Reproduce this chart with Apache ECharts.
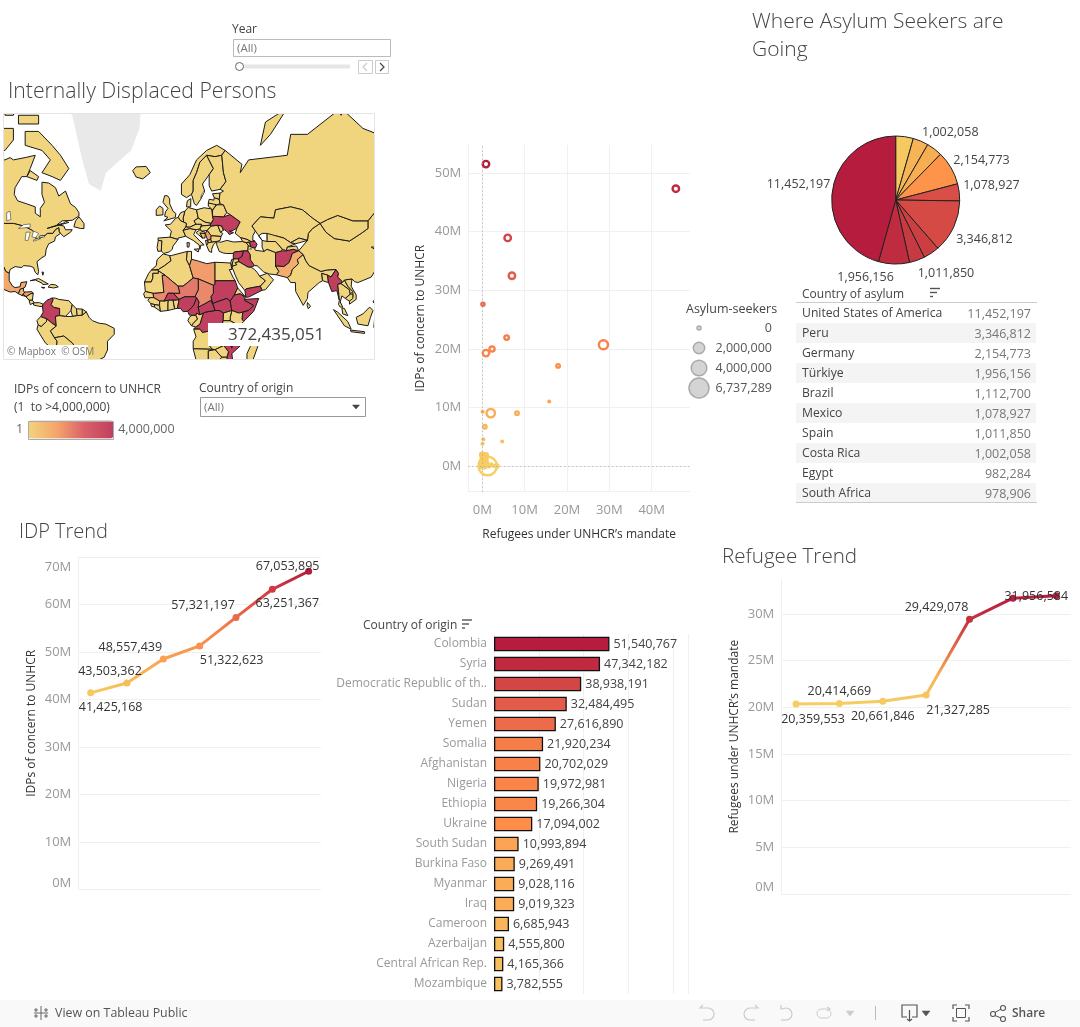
<!DOCTYPE html>
<html><head><meta charset="utf-8">
<style>html,body{margin:0;padding:0;background:#fff}#c{width:1080px;height:1027px}</style>
<script src="https://cdn.jsdelivr.net/npm/echarts@6/dist/echarts.min.js"></script>
</head><body><div id="c"></div>
<script>
const FONT='"Open Sans"';
// ---------- DATA ----------
const years=[2017,2018,2019,2020,2021,2022,2023];
const idpTrend=[41425168,43503362,48557439,51322623,57321197,63251367,67053895];
const refugeeTrend=[20359553,20414669,20661846,21327285,29429078,31700000,31956584];
const refugeeLabelled=[true,true,true,true,true,false,true];
const barCountries=['Colombia','Syria','Democratic Republic of th..','Sudan','Yemen','Somalia','Afghanistan','Nigeria','Ethiopia','Ukraine','South Sudan','Burkina Faso','Myanmar','Iraq','Cameroon','Azerbaijan','Central African Rep.','Mozambique'];
const barValues=[51540767,47342182,38938191,32484495,27616890,21920234,20702029,19972981,19266304,17094002,10993894,9269491,9028116,9019323,6685943,4555800,4165366,3782555];
const tableCountries=['United States of America','Peru','Germany','Türkiye','Brazil','Mexico','Spain','Costa Rica','Egypt','South Africa'];
const tableValues=[11452197,3346812,2154773,1956156,1112700,1078927,1011850,1002058,982284,978906];
const pieNames=['Brazil','South Africa','Costa Rica','Germany','Mexico','Peru','Spain','Egypt','Türkiye','United States of America'];
const pieValues=[1112700,978906,1002058,2154773,1078927,3346812,1011850,982284,1956156,11452197];
const pieLabelled=[false,false,true,true,true,true,true,false,true,true];
const scatterRefugeesM=[1.27,28.6,2.0,0.87,45.7,0.87,6.0,7.0,5.75,2.3,0.16,17.9,15.8,0.08,8.2,0.6,0.24,4.7,0.05,0,0.9,0.1,0.3,0.05,0.5,0.2,0.7,1.1,0,0.4,0.9,0.1,0.5,1.6,2.2,3.4,2.7,0.25,0.75,0.6,0.15];
const scatterIdpsM=[0,20.7,9.03,19.27,47.34,51.54,38.94,32.48,21.92,19.97,27.6,17.09,10.99,9.27,9.02,6.69,4.56,4.17,3.78,1.9,1.9,1.5,1.2,0.9,0.8,0.5,0.5,0.4,0.3,0.2,0.15,0,0,0.05,0.3,0,0.02,1.7,1.1,0.25,0.75];
const scatterAsylumM=[6.737,1.7,1.47,0.84,0.84,0.84,0.84,0.84,0.35,0.5,0.1,0.16,0.03,0.05,0.16,0.16,0.02,0.02,0.02,0.35,0.15,0.2,0.2,0.3,0.15,0.2,0.25,0.1,0.3,0.3,0.2,0.5,0.4,0.1,0.05,0.2,0.05,0.3,0.3,0.4,0.4];
const sizeLegendValues=[0,2000000,4000000,6737289];
const mapCountries=['Colombia','Syria','Iraq','Azerbaijan','Ukraine','Afghanistan','Myanmar','Sudan','South Sudan','Ethiopia','Somalia','Yemen','Nigeria','Cameroon','Central African Rep.','DR Congo','Mozambique','Burkina Faso','Libya','Mali','Chad','Niger','Pakistan','Mexico','Honduras','Guatemala','Serbia','Bosnia','Georgia'];
const mapIdps=[4000000,4000000,4000000,4000000,4000000,4000000,4000000,4000000,4000000,4000000,4000000,4000000,4000000,4000000,4000000,4000000,4000000,4000000,1500000,1900000,1900000,2200000,1100000,1300000,1500000,800000,1500000,400000,300000];
const mapTotal='372,435,051';
const IDP_TICKS=[0,10e6,20e6,30e6,40e6,50e6,60e6,70e6];
const REF_TICKS=[0,5e6,10e6,15e6,20e6,25e6,30e6];
const SC_Y_TICKS=[0,10e6,20e6,30e6,40e6,50e6];
const SC_X_TICKS=[0,10e6,20e6,30e6,40e6];
// colours
const pieColors=['#f5c95f','#f6b456','#f7ae50','#fd9449','#d94f47','#d54a44','#cb3f43','#c83a42','#c02c3f','#b51c3d'];
// offsets of the labels relative to their default places
const idpLabelOffset=[[20,15],[-17,-12],[-33,-12],[32,15],[-33,-12],[15,14],[-21,-5]];
const refLabelOffset=[[17,15],[0,-12],[0,15],[32,15],[-33,-12],[0,0],[-20,1]];
const pieLabelOffset=[[0,0],[0,0],[-21,-12],[-8,-4],[-7,-6],[-8,10],[-22,15],[0,0],[5,7],[9,-6]];
// base map outlines (lon,lat)
const mapShapes={
Canada:['-110,49 -95,49 -89,48 -84.5,46.5 -82.5,45.5 -81.5,42.5 -79,43 -79.5,43.8 -76,44.2 -74.7,45 -71.5,45 -70,46.5 -68,47.3 -67.8,45.7 -67,45 -65,43.6 -61,45.5 -60,46.5 -64,46.5 -65,48 -69,48.5 -66,50 -60,50.2 -56,51.8 -56,53 -58,54.8 -61,56 -64,60 -68,58.5 -70,61 -74,62.3 -78,62.5 -78,59 -76.5,56.5 -79,54.5 -79,51.5 -82,52.8 -82,55 -87,56 -92.5,57 -94.5,59 -94,61 -90,64 -87,64 -85,66 -82,69 -88,68.5 -95,68 -97,68.5 -100,68 -110,68','-62,66 -67,63 -72,64 -78,65 -73,68 -78,70 -88,71 -88,73.5 -80,73.5 -72,71 -67,69','-59,47.7 -55,47 -53,47 -53,49 -56,51.5 -58,50','-110,70 -100,70 -95,72 -95,74 -110,74','-92,76 -80,76 -80,74.7 -92,74.7','-90,77 -78,77 -72,79 -62,82 -80,83 -92,81','-87,64 -81,63 -80,64 -85,65.5','-100,76 -95,76 -93,78 -100,79','-110,76 -103,76 -103,78 -110,78','-75,47 -62,49.4 -64,49.8 -65,49.2'],
USA:['-110,49 -95,49 -89,48 -84.5,46.5 -82.5,45.5 -81.5,42.5 -79,43 -76,44.2 -74.7,45 -71.5,45 -70,46.5 -68,47.3 -67.8,45.7 -67,45 -70,43.5 -70.5,41.7 -74,40.5 -75.5,38 -76,35 -78,34 -81,32 -80,27 -80.5,25.2 -82,26.5 -83,29 -85,29.7 -89,30 -90,29 -94,29.5 -97,28 -97.5,26 -99.5,27 -101,29.7 -103,29 -105,30.7 -110,31.3'],
Mexico:['-110,31.3 -105,30.7 -103,29 -101,29.7 -99.5,27 -97.5,26 -97.5,22 -95.5,19 -94,18.2 -91,18.7 -90.5,21 -87,21.5 -88,18.5 -89,17.9 -91,17.2 -92,14.7 -94,16 -97,15.7 -101,17.3 -105,20 -106,23 -110,27'],
Guatemala:['-92,14.7 -91,17.2 -89,17.9 -88.9,15.9 -88.2,15.7 -89.2,14.4 -90,13.8'],
Honduras:['-89.2,14.4 -88.2,15.7 -84,15.9 -83.2,15 -84.7,14.7 -87.5,13'],
'El Salvador':['-90,13.8 -89.2,14.4 -87.7,13.2'],
Nicaragua:['-87.5,13 -84.7,14.7 -83.2,15 -83.7,11 -85.7,11'],
'Costa Rica':['-85.7,11 -83.7,11 -82.6,9.5 -85,8.5'],
Panama:['-83,9.5 -79.5,9.6 -77.3,8.7 -77.7,7.3 -80,7.5 -83,8.2'],
Cuba:['-85,22 -80,23.2 -74.2,20.2 -77.5,19.9 -78,20.7 -82,22.4'],
Hispaniola:['-74.4,18.5 -72.7,20 -69.9,19.7 -68.3,18.6 -71,18'],
Jamaica:['-78.3,18.4 -76.3,18.2 -77,17.8'],
Bahamas:['-78,26.7 -77,26.5 -77.5,25'],
Colombia:['-77.3,8.7 -75,11 -72,12.3 -71.3,11.5 -72.5,8.5 -71,6.9 -67.5,6.2 -67.5,2 -70,1.5 -69.5,-4.2 -72,-2.5 -75,0 -78.8,1.4 -77.3,4 -77.7,7.3'],
Venezuela:['-72,12.3 -71.3,11.5 -72.5,8.5 -71,6.9 -67.5,6.2 -67.5,2 -64,1.5 -60.7,5 -60,8.5 -62,10.7 -68,11.5 -70,12.2'],
Guyana:['-60,8.5 -60.7,5 -59.8,1.5 -57,2 -57.5,6'],
Suriname:['-57.5,6 -57,2 -54,2.2 -54,5.8'],
'French Guiana':['-54,5.8 -54,2.2 -51.6,4.2'],
Ecuador:['-78.8,1.4 -75,0 -75.3,-1.5 -78.5,-4.5 -80.3,-3.4 -81,-1'],
Peru:['-80.3,-3.4 -78.5,-4.5 -75.3,-1.5 -75,0 -72,-2.5 -69.5,-4.2 -73,-7 -70.5,-11 -69,-13 -69.5,-17.5 -70.4,-18.4 -76,-14 -81,-6'],
Brazil:['-69.5,-4.2 -70,1.5 -67.5,2 -64,1.5 -59.8,1.5 -57,2 -54,2.2 -51.6,4.2 -50,1 -48,-1 -44,-2.5 -40,-3 -35,-5.5 -35,-9 -39,-13 -39,-18 -41,-22 -45,-23.8 -48.5,-26 -48.5,-30 -53,-34 -57,-30 -54,-26 -58,-22 -58,-16.5 -60,-14 -65,-10 -70.5,-11 -73,-7'],
Bolivia:['-69,-13 -70.5,-11 -65,-10 -60,-14 -58,-16.5 -58,-20 -62,-22.5 -68,-23 -69.5,-17.5'],
Paraguay:['-58,-20 -58,-22 -54,-26 -58,-27 -62,-22.5'],
Chile:['-70.4,-18.4 -69.5,-17.5 -68,-23 -70,-30 -71.5,-30'],
Argentina:['-68,-23 -62,-22.5 -58,-27 -54,-26 -57,-30 -58,-34 -70,-34 -70,-30'],
Iceland:['-24,65.5 -22,66.4 -16,66.5 -13.5,65 -18,63.4 -22,63.9'],
Ireland:['-10,52 -10,54 -8,55.3 -6,54.5 -6,52.2'],
UK:['-5.5,50 1.3,51.2 1.7,52.7 0,53.5 -2,56 -2,57.6 -3.3,58.6 -5,58.6 -6,56.5 -3,54.5 -4.5,53.3 -5,51.7 -3,51.3'],
Norway:['5,59 5,62 10,64.5 14,68 20,70 26,71 31,70 29,69 25,68.7 20,69 16,67.5 14,65 12,63 12,60 11,59 8,58','15,77 20,78 25,77.5 20,76.5'],
Sweden:['11,59 12,60 12,63 14,65 16,67.5 20,69 24,66 21.5,64.5 17.5,62 18.8,60 16.5,57.5 14,55.5 12.7,56'],
Finland:['20,69 25,68.7 29,69 30,65 31.5,62.7 28,60.5 23,60 21.5,61.5 21.5,64.5 24,66'],
Denmark:['8,55 8.5,57 10.6,57.7 10.5,55'],
Germany:['6,51 7,53.5 9,54.8 14,54 15,51 12.5,50 13.7,48.7 10,47.5 7.6,47.6 8,49 6.3,49.5'],
Benelux:['3,51.3 4.5,53 7,53.5 6,51 6.3,49.5 4.5,50'],
France:['-1.8,43.4 -1,46 -4.7,48.4 -1.5,48.7 1.5,50.9 3,51.3 4.5,50 6.3,49.5 8,49 7.6,47.6 6,46.3 7.5,43.8 3,43 3,42.4'],
Spain:['-9,43 -1.8,43.4 3,42.4 0,39.5 -0.5,38 -2,36.8 -5.5,36 -7,37.2 -6.7,41.8 -8.8,42'],
Portugal:['-8.8,42 -6.7,41.8 -7,37.2 -9,37 -9.5,38.8'],
Italy:['7.5,43.8 6,46.3 10,47 13.7,46.5 12.3,44.5 16,41.7 18.5,40 16.5,39.8 16,38 15.5,40 12,42','12.5,38 15.5,38.2 15,36.7','8.3,41 9.7,41 9.5,39 8.5,39'],
Austria:['7.6,47.6 10,47.5 13.7,48.7 17,48.7 16,46.8 13.7,46.5 10,47 6,46.3'],
Poland:['14,54 18.5,54.7 23,54.3 23.5,51.7 24,50.5 22.7,49 19,49.5 15,51'],
Czechia:['12.5,50 15,51 19,49.5 22.7,49 22,48.3 17,48 17,48.7 13.7,48.7'],
Hungary:['16,46.8 17,48 22,48.3 22.8,48 20.3,46.2 17,45.9'],
Romania:['22.8,48 26.6,48.3 28.2,45.5 29.6,45 28.6,43.7 22.7,44 20.3,46.2'],
Moldova:['26.6,48.3 29,48 30,46.3 28.2,45.5'],
Ukraine:['24,50.5 23.5,51.7 30,51.5 34,52.3 40,49.6 38,47.1 35,46 33.5,46 36,45.3 33.5,44.5 32.5,45.5 30.7,46.5 30,46.3 29,48 26.6,48.3 22.8,48 22,48.3 22.7,49'],
Belarus:['23.5,51.7 23.5,53.9 26,55.7 30,55.7 32,53 30,51.5'],
Lithuania:['21,55.2 21,56.3 26,56 26,55.7 23.5,53.9 23,54.3'],
Latvia:['21,56.3 21.5,57.5 24.3,57.2 24.5,58 27.5,57.5 28,56 26,55.7 26,56'],
Estonia:['23.5,59.2 28,59.4 27.5,57.5 24.5,58'],
Serbia:['20.3,46.2 22.7,44 22.5,42.5 20.6,42 19.2,44.9'],
Bosnia:['16,45.2 19.2,44.9 19,43 17.5,43'],
Croatia:['13.7,45.3 16,46.5 17,45.9 19,45.5 19.2,44.9 16,45.2 17.5,43 15,44.5'],
Albania:['19.3,42 20.6,42 21,40 20,39.7'],
Macedonia:['20.6,42 22.5,42.5 23,41.2 21,41'],
Bulgaria:['22.7,44 28.6,43.7 28,42 26,41.5 23,41.2 22.5,42.5'],
Greece:['20,39.7 21,41 23,41.2 26,41.5 24,40 23,38 23,36.5 21.5,37'],
Turkey:['26,40 26,41.5 28.5,41.2 32,42 36,41.3 41.5,41.5 43.5,41 44.8,39.7 44.5,37.2 42,37.2 36.5,36.7 36,36 32,36 30,36.2 27.5,37'],
Georgia:['40,43.3 44,42.5 46.5,41.5 43.5,41 41.5,41.5'],
Armenia:['43.5,41 45.5,41 46.5,39 44.8,39.7'],
Azerbaijan:['46.5,41.5 48.5,41.8 50,40.3 49,38.5 46.5,39 45.5,41'],
Syria:['36,36 36.5,36.7 42,37.2 41,34.5 38.8,33.4 36,33.3 35.8,34.7'],
Jordan:['35.5,32 36,33.3 38.8,33.4 39.2,32 37,31.5 38,30.5 35,29.5'],
Israel:['34.3,31.3 35,33.2 36,33.3 35.5,32 35,29.5'],
Iraq:['42,37.2 44.5,37.2 46,35.5 46,33 48.5,30 46.5,29.2 44.7,29.2 39.2,32 38.8,33.4 41,34.5'],
Iran:['44.8,39.7 46.5,39 48.5,38.5 49,37.5 54,37 56,38 61,36.5 61,29.8 63,27 61.5,25.2 57,25.7 54,26.7 50,30 48.5,30 46,33 46,35.5 44.5,37.2'],
Saudi:['35,29.5 38,30.5 37,31.5 39.2,32 44.7,29.2 46.5,29.2 48.5,28 50,26.5 51.5,24.5 55,22 52,19 49,18.5 43.5,17.5 42.8,16.5 39,21 37,25'],
Yemen:['42.8,16.5 43.5,17.5 49,18.5 52,19 53,16.7 45,12.8 43.3,12.7'],
Oman:['51.5,24.5 56,26 59.8,22.5 55,17 53,16.7 52,19 55,22'],
Afghanistan:['61,36.5 64.5,37.2 67.5,37.3 71.5,38 74.8,37.3 71,36 70,33.5 69,31.5 66,29.5 61,29.8'],
Pakistan:['61,29.8 66,29.5 69,31.5 70,33.5 71,36 74.8,37.3 77.5,35.5 74,33 74.7,31 71,28 70,25 68,23.7 61.5,25.2 63,27'],
India:['74,33 77.5,35.5 79,32.5 81,30 88,27 92,27.8 97,28 94,24 92,25 88.5,26 89,22 87,21 80.3,15.5 80,12 77.5,8 73,16 72.8,21 70,21 68,23.7 70,25 71,28 74.7,31'],
Bangladesh:['88.5,26 92,25 92.5,21 89,22'],
Myanmar:['92,25 94,24 97,28 98.5,26 98,24 101,21.3 98,20 98.5,16 99,11 97.5,16.5 94.5,16 92.5,21'],
Thailand:['98,20 100,20.4 105,17 105.5,14.5 102.5,12 100.5,13.5 99.5,10 101,7 99.5,7 98.5,8.5 99,11 98.5,16'],
Laos:['100,20.4 101,21.3 102,22.4 104,19 107,16 105.5,14.5 105,17'],
Vietnam:['102,22.4 106.5,23 106,19 109,14 109,11.5 105,8.7 105,10.5 107,13 107,16 104,19'],
Cambodia:['102.5,12 105.5,14.5 107,14.5 107,12 105,10.5'],
Malaysia:['100.5,6.5 102,6.2 104,2 101,3'],
Indonesia:['95.5,5.5 98,4 104,-1.5 106,-6 102,-4','109,1 113,3 117,7 119,5 117.5,1 116,-4 110,-3','105.5,-6.5 114,-7.5 114,-8.5 106,-7.5','119.5,-5 120,1 124,1 121,-1 122,-5'],
Philippines:['120,18 122,18 122,14 120.5,14','119,10 120,11.5 122,9 122,7'],
SriLanka:['80,9.7 81.8,7.5 80.5,6 79.8,8'],
China:['74.8,37.3 80,42 80.5,45 83,47 87.5,49 91,45.5 96,42.8 105,41.7 112,45 116,47 116,50 120,53 122,53 122,40 121,39 118,39 122,37 120,34 122,30 118,24 110,21 108,21.5 106.5,23 102,22.4 101,21.3 98,24 98.5,26 97,28 92,27.8 88,27 81,30 79,32.5 77.5,35.5'],
Mongolia:['87.5,49 92,50.5 98,52 107,50 116,50 116,47 112,45 105,41.7 96,42.8 91,45.5'],
Russia:['28,59.4 30,60 28,60.5 31.5,62.7 30,65 29,69 31,70 41,67 40,65 45,68 68,69 70,73 80,73 100,77 113,74 122,73 122,53 120,53 116,50 107,50 98,52 92,50.5 87.5,49 83,51 77,54 70,55 61,54 60,51 52,51.5 47,48 49,46 47.5,44 47.5,42 48.5,41.8 46.5,41.5 44,42.5 40,43.3 37,45 38,47.1 40,49.6 34,52.3 32,53 30,55.7 28,56 27.5,57.5','52,71 55,75 68,77 58,73','95,79 105,78 100,76'],
Kazakhstan:['47,48 52,51.5 60,51 61,54 70,55 77,54 83,51 87.5,49 83,47 80.5,45 80,42 75,43 70,41 66,43 61,44 56,41.5 56,45 53,45 51,44 53,42 50.5,44.5 49,46'],
Uzbekistan:['56,45 56,41.5 61,41.5 65,38 67.5,37.3 68,39 73,40.5 70,41 66,43 61,44'],
Turkmenistan:['53,42 56,41.5 61,41.5 65,38 64.5,37.2 61,36.5 56,38 54,37 53,39'],
Kyrgyzstan:['70,41 73,40.5 80,42 75,43'],
Tajikistan:['67.5,37.3 71.5,38 74.8,37.3 73.5,39.5 68,39'],
Morocco:['-5.9,35.8 -2,35 -1.2,32.5 -5,30 -8.7,28 -13,27.7 -10,30 -9.5,33'],
'W Sahara':['-13,27.7 -8.7,27.7 -8.7,26 -12,26 -12,23.5 -13,21.3 -17,21.3 -14.5,26'],
Algeria:['-2,35 -1,35 8.5,37 8,33 9.8,30 12,23.5 6,19 3,19 -4.8,25 -8.7,27.3 -8.7,28 -5,30 -1.2,32.5'],
Tunisia:['8.5,37 11,37 11,33.2 9.8,30 8,33'],
Libya:['11,33.2 15,32.3 20,31 25,31.7 25,20 24,19.5 15,23 12,23.5 9.8,30'],
Egypt:['25,31.7 31,31.5 34.3,31.3 35,28 33.5,28 35.7,23.9 37,22 25,22'],
Sudan:['25,22 37,22 38.5,18 36.5,14 34,10.5 32,12 26,10 23.5,9 22.5,13 24,15 24,19.5 25,20'],
'South Sudan':['23.5,9 26,10 32,12 34,10.5 35,5 30,3.5 27.5,5 25,5'],
Eritrea:['38.5,18 43,13 40,14.7 36.5,14'],
Ethiopia:['36.5,14 40,14.7 43,12.5 42.5,11 48,8 45,5 41.5,4 39,3.5 35,5 34,10.5'],
Somalia:['43,11.5 51,12 48,4.5 42,-1.5 41,0 41.5,4 45,5 48,8 42.5,11'],
Kenya:['35,5 39,3.5 41.5,4 41,0 42,-1.5 39,-4.5 37.5,-3 34,-1 34,1'],
Uganda:['30,3.5 35,5 34,1 34,-1 29.7,-1'],
Tanzania:['29.7,-1 34,-1 37.5,-3 39,-4.5 39.5,-7 40.4,-10.5 35,-11.5 33,-9.5 30,-8 29,-4.5'],
'DR Congo':['12.3,-5.8 13.5,-4.7 16,-3 18,3.5 19,4 25,5 27.5,5 30,3.5 29.7,-1 29,-4.5 30,-8 28.5,-12 24,-11 22,-11 22,-7 17.5,-8 16,-6'],
Congo:['11,-4 13.5,-4.7 16,-3 18,3.5 16,2.5 14,3.5 13.5,2.2 14.5,0 12,-2.5'],
Gabon:['8.8,-1 9.7,1 11.3,2.2 13.5,2.2 14.5,0 12,-2.5 11,-4'],
Cameroon:['9.7,2.3 11.3,2.2 13.5,2.2 14,3.5 16,2.5 15.5,4.5 15,7 15.5,10 14,12.5 13,10 12.5,8.5 11,6.7 8.8,4.5'],
'Central African Rep.':['15,7 15.5,4.5 16,2.5 18,3.5 19,4 25,5 23.5,9 22.5,11 19,9 15.5,7.5'],
Chad:['14,12.5 15.5,10 15,7 15.5,7.5 19,9 22.5,11 23.5,9 22.5,13 24,15 24,19.5 15,23 15,17 13.5,14 13,13'],
Niger:['3,12 3.6,11.5 7,13 13,13 13.5,14 15,17 15,23 12,23.5 6,19 3,19 4,15 0.2,15'],
Mali:['-12,15 -11.5,12.5 -8,10.5 -5.5,10.5 -4.5,12 -3,15 0.2,15 4,15 3,19 -4.8,25 -6.5,25 -5.5,15.5'],
Mauritania:['-17,21.3 -13,21.3 -12,23.5 -12,26 -8.7,26 -8.7,27.3 -4.8,25 -6.5,25 -5.5,15.5 -12,15 -16.5,16'],
Senegal:['-17.5,14.7 -16.5,16 -12,15 -11.5,12.5 -16.7,12.4'],
Guinea:['-15,11 -13.7,12.5 -11.5,12.5 -8,10.5 -8,8 -11,8.5 -13.3,9'],
'Sierra Leone':['-13.3,9 -11,8.5 -11,7 -12.9,7.5'],
Liberia:['-11,7 -11,8.5 -8,8 -7.5,4.5'],
'Ivory Coast':['-8,8 -8,10.5 -5.5,10.5 -2.8,11 -3,9 -3,5 -7.5,4.5'],
'Burkina Faso':['-5.5,10.5 -4.5,12 -3,15 0.2,15 3,12 2,11 -2.8,11'],
Ghana:['-2.8,11 0,11 1,6 -3,5 -3,9'],
Benin:['0,11 2,11 3.6,11.5 2.7,6.3 1,6'],
Nigeria:['2.7,6.3 3.6,11.5 7,13 13,13 14,12.5 13,10 12.5,8.5 11,6.7 8.8,4.5 6,4.3 4.5,6.2'],
Angola:['12.3,-6 16,-6 17.5,-8 22,-7 22,-11 24,-11 24,-13 22,-13 22,-16 23.4,-17.6 12,-17.3 12,-13 13.7,-10.5'],
Zambia:['22,-11 24,-11 28.5,-12 30,-8 33,-9.5 33.5,-13.9 30.2,-15.5 25,-17.8 23.4,-17.6 22,-16 22,-13 24,-13'],
Malawi:['33,-9.5 35,-11.5 35.5,-14.5 35,-17 33.5,-13.9'],
Mozambique:['40.4,-10.5 40.7,-15 35,-20 35.5,-24 32.8,-26 32,-22 33,-19 30.2,-15.5 33.5,-13.9 35,-17 35.5,-14.5 35,-11.5'],
Zimbabwe:['25,-17.8 30.2,-15.5 33,-19 32,-22 29,-22'],
Namibia:['12,-17.3 23.4,-17.6 25,-17.8 21,-18.5 21,-28 15,-28'],
Botswana:['21,-18.5 25,-17.8 29,-22 26,-25 21,-26.5'],
'South Africa':['15,-28 21,-28 21,-26.5 26,-25 29,-22 32,-22 32.8,-26 30,-31 18,-34'],
Madagascar:['49.3,-12 50.4,-16 47,-25 44,-25 44,-20 46,-16'],
Greenland:['-73,78.5 -60,82 -30,83 -18,80 -20,74 -25,70 -40,65 -43,60 -50,62 -54,68 -60,76'],
Lakes:['-92,47 -85,47.5 -85,48.8 -89,48.5','-88,42 -86.3,42 -85,45.5 -87.5,45.5','-84,43.5 -81.8,43.2 -80,45 -83,46','-83,41.6 -79,42.7 -80,43 -83,42.2','-79.7,43.3 -76.5,43.4 -76.5,44 -79.5,43.9','-99,50 -96.5,50.5 -97,53.5 -99,53','16.5,58 18.5,59.5 18.5,60 17,59','46.5,38.5 46.8,38 45.5,38']
};
// ---------- HELPERS ----------
const mercDeg=lat=>Math.log(Math.tan(Math.PI/4+lat*Math.PI/360))*180/Math.PI;
const MAP_Y_STRETCH=1.048;
const geojson={type:'FeatureCollection',features:Object.keys(mapShapes).map(n=>({type:'Feature',properties:{name:n},geometry:{type:'MultiPolygon',coordinates:mapShapes[n].map(s=>{const p=s.split(' ').map(q=>{const a=q.split(',').map(Number);return [a[0],mercDeg(a[1])*MAP_Y_STRETCH]});p.push(p[0]);return [p]})}}))};
echarts.registerMap('world',geojson);
const fmtM=v=>(v/1e6)+'M';
const fmtN=v=>Number(v).toLocaleString('en-US');
const rampStops=[[0,'#f6cf64'],[17,'#fe8d4a'],[32.5,'#e35c4b'],[51.5,'#b51c3d']];
function ramp(m){for(let i=1;i<rampStops.length;i++){if(m<=rampStops[i][0]){const t=(m-rampStops[i-1][0])/(rampStops[i][0]-rampStops[i-1][0]);return echarts.color.lerp(Math.max(0,t),[rampStops[i-1][1],rampStops[i][1]]);}}return rampStops[3][1];}
const sizeFor=m=>Math.sqrt(16+384*m/6.737289);
const axisGrey='#999',gridC='#f0f0f0';
function valueAxis(ticks,name,gap,min,max,lineTicks,margin){return {type:'value',min,max,name,nameLocation:'middle',nameGap:gap,nameTextStyle:{color:'#333',fontSize:12,fontFamily:FONT},axisLine:{show:true,onZero:false,lineStyle:{color:gridC}},axisTick:{show:false,customValues:ticks},splitLine:{show:true,customValues:lineTicks||ticks,lineStyle:{color:gridC,width:1}},axisLabel:{customValues:ticks,formatter:fmtM,color:axisGrey,fontSize:13,fontFamily:FONT,margin:margin||7,padding:[3,0,0,0]}};}
function hiddenX(idx){return {type:'value',min:2016.66,max:2023.34,gridIndex:idx,show:false,splitLine:{show:false}};}
function lineSeries(name,vals,off,xi,lab){return {name,type:'line',xAxisIndex:xi,yAxisIndex:xi,data:vals.map((v,i)=>({value:[years[i],v],label:{show:lab?lab[i]:true,offset:off[i]}})),symbol:'circle',symbolSize:7,lineStyle:{width:3},silent:true,label:{show:true,position:'inside',formatter:p=>fmtN(p.value[1]),color:'#333',fontSize:12.5,fontFamily:FONT},z:3};}
// ---------- GRAPHIC ----------
const T=(x,y,text,o={})=>({type:'text',x,y:y+1.5,z:100,silent:true,style:Object.assign({x:0,y:0,text,fill:'#444',font:(o.weight||400)+' '+(o.size||12)+'px '+FONT,textAlign:o.align||'left',textVerticalAlign:'middle',verticalAlign:'middle'},o.style||{})});
const R=(x,y,w,h,fill,stroke,z,r)=>({type:'rect',z:z||95,silent:true,shape:{x,y,width:w,height:h,r:r||0},style:{fill:fill||'transparent',stroke:stroke||null,lineWidth:1}});
const L=(x1,y1,x2,y2,c,w)=>({type:'line',z:100,silent:true,shape:{x1,y1,x2,y2},style:{stroke:c||'#555',lineWidth:w||1}});
const PL=(pts,c)=>({type:'polyline',z:100,silent:true,shape:{points:pts},style:{stroke:c,fill:'none',lineWidth:1.2}});
const PG=(pts,c)=>({type:'polygon',z:100,silent:true,shape:{points:pts},style:{fill:c,stroke:c,lineWidth:0.5}});
const A=(cx,cy,r,s,e,c)=>({type:'arc',z:100,silent:true,shape:{cx,cy,r,startAngle:s*Math.PI/180,endAngle:e*Math.PI/180,clockwise:true},style:{stroke:c,fill:'none',lineWidth:1.2}});
const C=(cx,cy,r,c)=>({type:'circle',z:100,silent:true,shape:{cx,cy,r},style:{fill:'none',stroke:c,lineWidth:1.1}});
const sortIcon=(x,y)=>[L(x,y,x+10,y,'#555',1.4),L(x,y+4,x+7,y+4,'#555',1.4),L(x,y+8,x+3,y+8,'#555',1.4)];
const g=[
 // map masks and frame
 R(0,0,395,113.5,'#fff',null,90),R(0,113,3.5,250,'#fff',null,90),R(375,100,25,270,'#fff',null,90),R(0,360,395,24,'#fff',null,90),
 R(3.5,113.5,371,246,null,'#e4e4e4',97),
 R(208,323,100,23,'#fff',null,98),
 R(5,345,83,14,'#fff',null,98),
 T(7,351,'© Mapbox  © OSM',{size:10,style:{fill:'#777'}}),
 T(228,334,mapTotal,{size:17}),
 // titles
 T(8,90,'Internally Displaced Persons',{size:21.2,weight:300}),
 T(752,21,'Where Asylum Seekers are',{size:21,weight:300}),
 T(752,49,'Going',{size:21,weight:300}),
 T(19,531,'IDP Trend',{size:20,weight:300}),
 T(722,556,'Refugee Trend',{size:20.6,weight:300}),
 // year filter
 T(232,28,'Year',{size:12}),
 R(233.5,39.5,157,17,'#fff','#bbb'),
 T(237,47,'(All)',{size:11.5,style:{fill:'#777'}}),
 R(240,64.5,110,4,'#e6e6e6'),
 {type:'circle',z:100,silent:true,shape:{cx:239.5,cy:66.5,r:4},style:{fill:'#fff',stroke:'#666',lineWidth:1}},
 R(358.5,60.5,14,13,'#fff','#ccc'),R(375.5,60.5,13,13,'#fff','#ccc'),
 PL([[367,63],[363,67],[367,71]],'#ccc'),PL([[380,63],[384,67],[380,71]],'#444'),
 // map legend
 T(14,388,'IDPs of concern to UNHCR',{size:12}),
 T(14,406,'(1  to >4,000,000)',{size:12}),
 R(28.5,421.5,85,18,null,'#aaa',99),
 // country filter
 T(199,387,'Country of origin',{size:12}),
 R(200.5,397.5,165,19,'#fff','#999'),
 T(204,406,'(All)',{size:11.5,style:{fill:'#777'}}),
 PG([[352.5,405],[359.5,405],[356,409]],'#444'),
 // table header
 T(802,293,'Country of asylum',{size:12}),
 ...sortIcon(930,288.5),
 L(796,302.5,1037,302.5,'#ccc',1),L(796,502.5,1037,502.5,'#ccc',1),
 // bars header
 T(363,624,'Country of origin',{size:12}),
 ...sortIcon(462,620),
 // scatter size legend
 T(686,308,'Asylum-seekers',{size:12.5}),
 ...sizeLegendValues.flatMap((v,i)=>[
  {type:'circle',z:100,silent:true,shape:{cx:699,cy:328+i*20,r:sizeFor(v/1e6)/2},style:{fill:'#d4d4d4',stroke:'#aaa',lineWidth:1.5}},
  T(772,327+i*20,fmtN(v),{size:12.5,align:'right',style:{fill:'#555'}})]),
 // toolbar
 R(0,1000,1080,27,'#f9f9f9',null,99),
 T(55,1012,'View on Tableau Public',{size:12.4,style:{fill:'#555'}}),
 ...[[41,1006,41,1020],[34,1013,48,1013],[36,1008,36,1012],[34,1010,38,1010],[46,1008,46,1012],[44,1010,48,1010],[36,1014,36,1018],[34,1016,38,1016],[46,1014,46,1018],[44,1016,48,1016]].map(a=>L(a[0],a[1],a[2],a[3],'#666',1)),
 A(708,1014,6,-90,90,'#ccc'),PL([[703,1005],[700,1008],[708,1008]],'#ccc'),L(708,1020,703,1020,'#ccc',1.2),
 A(750,1014,6,90,270,'#ccc'),PL([[755,1005],[758,1008],[750,1008]],'#ccc'),L(750,1020,755,1020,'#ccc',1.2),
 A(786,1014,6,-90,90,'#ccc'),PL([[781,1005],[781,1009],[786,1008]],'#ccc'),L(786,1020,781,1020,'#ccc',1.2),
 R(817,1009,14,9,null,'#ccc',100,4.5),PL([[827,1007],[830,1009],[827,1011]],'#ccc'),
 PG([[846,1011],[854,1011],[850,1016]],'#ccc'),
 L(875.5,1006,875.5,1020,'#bbb',1),
 PL([[907,1017],[902,1017],[902,1005],[917,1005],[917,1017],[912,1017]],'#555'),PL([[909.5,1010],[909.5,1021]],'#555'),PL([[907,1019],[909.5,1021],[912,1019]],'#555'),
 PG([[922,1011],[930,1011],[926,1016]],'#555'),
 PL([[953,1009],[953,1005],[957,1005]],'#555'),PL([[965,1005],[969,1005],[969,1009]],'#555'),PL([[969,1017],[969,1021],[965,1021]],'#555'),PL([[957,1021],[953,1021],[953,1017]],'#555'),R(956.5,1008.5,9,9,null,'#555',100),
 C(993,1014,2.5,'#555'),C(1003,1008,2.5,'#555'),C(1003,1019,2.5,'#555'),
 L(995,1012.5,1001,1009,'#555',1),L(995,1015.5,1001,1018,'#555',1),
 T(1012,1012,'Share',{size:12,weight:600,style:{fill:'#555'}})
];
// ---------- SERIES DATA ----------
const mapData=Object.keys(mapShapes).filter(n=>n!=='Greenland'&&n!=='Lakes').map(n=>{const i=mapCountries.indexOf(n);return {name:n,value:i>=0?mapIdps[i]:1};});
mapData.push({name:'Greenland',itemStyle:{areaColor:'#e9e9e9',borderWidth:0}},{name:'Lakes',itemStyle:{areaColor:'#fff',borderWidth:0.5}});
const scatterData=scatterRefugeesM.map((x,i)=>{const d=sizeFor(scatterAsylumM[i]),c=ramp(scatterIdpsM[i]);return {value:[x*1e6,scatterIdpsM[i]*1e6,scatterAsylumM[i]*1e6],symbolSize:d<4.5?4:d-1.5,itemStyle:{color:d<4.5?c:'rgba(255,255,255,0)',borderColor:c,borderWidth:d<4.5?0:2.4,opacity:1}};});
const chart=echarts.init(document.getElementById('c'));
chart.setOption({
 animation:false,backgroundColor:'#fff',textStyle:{fontFamily:FONT},
 graphic:{elements:g},
 grid:[
  {left:468.3,top:145,width:221.7,height:346.7},
  {left:78.3,top:557.3,width:242.7,height:332},
  {left:781.3,top:579.3,width:289.7,height:314.7},
  {left:494,top:634,width:194,height:360},
  {left:796,top:303,width:240,height:200}
 ],
 xAxis:[
  Object.assign(valueAxis(SC_X_TICKS,'Refugees under UNHCR’s mandate',37,-3.3e6,49.04e6,null,9),{gridIndex:0}),
  hiddenX(1),hiddenX(2),
  {type:'value',gridIndex:3,min:0,max:86.6e6,interval:20e6,axisLine:{show:false},axisTick:{show:false},axisLabel:{show:false},splitLine:{lineStyle:{color:gridC}}},
  {type:'value',gridIndex:4,min:0,max:1,show:false,splitLine:{show:false}}
 ],
 yAxis:[
  Object.assign(valueAxis(SC_Y_TICKS,'IDPs of concern to UNHCR',41.6,-4.39e6,54.8e6),{gridIndex:0}),
  (()=>{const a=valueAxis(IDP_TICKS,'IDPs of concern to UNHCR',41,0,70e6,IDP_TICKS.slice(1));a.gridIndex=1;a.axisLabel.verticalAlignMinLabel='bottom';a.axisLabel.verticalAlignMaxLabel='top';return a;})(),
  (()=>{const a=valueAxis(REF_TICKS,'Refugees under UNHCR’s mandate',41,0,33.72e6,REF_TICKS.slice(1));a.gridIndex=2;a.axisLabel.verticalAlignMinLabel='bottom';return a;})(),
  {type:'category',gridIndex:3,inverse:true,data:barCountries,axisLine:{show:false},axisTick:{show:false},axisLabel:{color:axisGrey,fontSize:12,fontFamily:FONT,margin:7,padding:[2,0,0,0]}},
  {type:'category',gridIndex:4,inverse:true,data:tableCountries,show:false,splitLine:{show:false}}
 ],
 visualMap:[
  {type:'continuous',seriesIndex:0,min:1,max:4000000,orient:'horizontal',left:1,top:405.5,itemWidth:18,itemHeight:85,text:['4,000,000','1'],textGap:5,calculable:false,hoverLink:false,realtime:false,inRange:{color:['#f1d47e','#f4a66b','#d9606a','#c03f5e']},textStyle:{color:'#666',fontSize:12.5,fontFamily:FONT}},
  {type:'continuous',show:false,seriesIndex:2,dimension:1,min:41425168,max:67053895,inRange:{color:['#f6c95f','#fba552','#f9834b','#de4f48','#b71c3d']}},
  {type:'continuous',show:false,seriesIndex:3,dimension:1,min:20359553,max:31956584,inRange:{color:['#f6cd63','#f6b456','#e4704a','#c6353f','#b71c3d']}}
 ],
 series:[
  {type:'map',map:'world',silent:true,roam:false,left:4,top:114,width:370,height:245,aspectScale:1,boundingCoords:[[-100.6,mercDeg(77.5)],[119.6,mercDeg(-24)]],data:mapData,label:{show:false},emphasis:{disabled:true},select:{disabled:true},itemStyle:{borderColor:'#1a1a1a',borderWidth:1,areaColor:'#f1d47e'},z:1},
  {type:'scatter',xAxisIndex:0,yAxisIndex:0,silent:true,data:scatterData,z:3,
    markLine:{silent:true,symbol:'none',label:{show:false},lineStyle:{type:[1,3],color:'#aaa',width:1},data:[{xAxis:0},{yAxis:0}],animation:false}},
  lineSeries('IDPs',idpTrend,idpLabelOffset,1),
  lineSeries('Refugees',refugeeTrend,refLabelOffset,2,refugeeLabelled),
  {type:'bar',xAxisIndex:3,yAxisIndex:3,silent:true,barWidth:14.5,data:barValues.map(v=>({value:v,itemStyle:{color:ramp(v/1e6)}})),itemStyle:{borderColor:'#111',borderWidth:1.3},label:{show:true,position:'right',distance:4,formatter:p=>fmtN(p.value),color:'#444',fontSize:12.5,fontFamily:FONT,padding:[2,0,0,0]}},
  {type:'pie',center:[895.7,200],radius:[0,64],startAngle:90,clockwise:true,silent:true,avoidLabelOverlap:false,
   data:pieNames.map((n,i)=>({name:n,value:pieValues[i],itemStyle:{color:pieColors[i]},label:{show:pieLabelled[i]}})),
   labelLayout:p=>({dx:pieLabelOffset[p.dataIndex][0],dy:pieLabelOffset[p.dataIndex][1]}),
   itemStyle:{borderColor:'#222',borderWidth:1},labelLine:{show:false,length:6,length2:0},label:{position:'outside',formatter:p=>fmtN(p.value),color:'#444',fontSize:12.5,fontFamily:FONT}},
  {type:'custom',xAxisIndex:4,yAxisIndex:4,silent:true,data:tableCountries.map((c,i)=>[0.5,i]),
   renderItem(params,api){const i=api.value(1),cs=params.coordSys,y=api.coord([0,i])[1],h=api.size([0,1])[1];const ch=[];
    if(i%2===1)ch.push({type:'rect',shape:{x:cs.x,y:y-h/2,width:cs.width,height:h},style:{fill:'#f4f4f4'}});
    ch.push({type:'text',style:{x:cs.x+6,y:y+1,text:tableCountries[i],fill:'#444',font:'12.2px '+FONT,textAlign:'left',textVerticalAlign:'middle',verticalAlign:'middle'}});
    ch.push({type:'text',style:{x:cs.x+cs.width-5,y:y+1,text:fmtN(tableValues[i]),fill:'#777',font:'12.5px '+FONT,textAlign:'right',textVerticalAlign:'middle',verticalAlign:'middle'}});
    return {type:'group',children:ch};}}
 ]
});
</script></body></html>
